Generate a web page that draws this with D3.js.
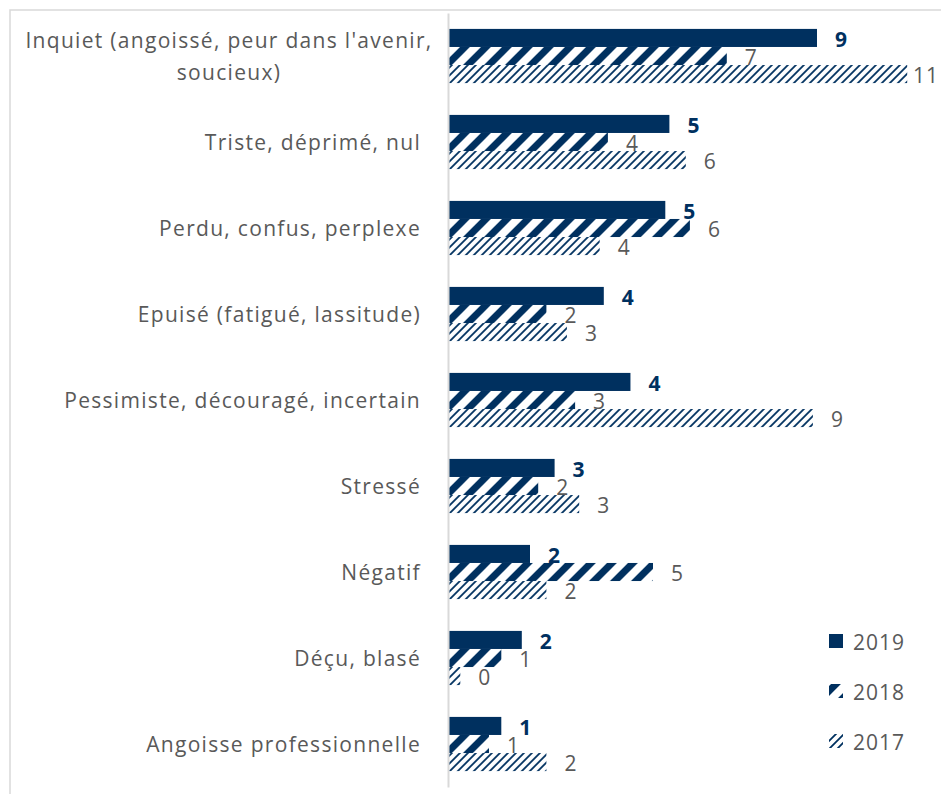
<!DOCTYPE html>
<html>
<head>
<meta charset="utf-8">
<script src="https://cdn.jsdelivr.net/npm/d3@7"></script>
<style>
  body { margin: 0; background: #fff; }
  svg text { font-family: "Open Sans", sans-serif; }
</style>
</head>
<body>
<div id="chart"></div>
<script>
// categories, top to bottom (\n = line break in the label)
var categories = [
  "Inquiet (angoissé, peur dans l'avenir,\nsoucieux)",
  "Triste, déprimé, nul",
  "Perdu, confus, perplexe",
  "Epuisé (fatigué, lassitude)",
  "Pessimiste, découragé, incertain",
  "Stressé",
  "Négatif",
  "Déçu, blasé",
  "Angoisse professionnelle"
];

var series = ["2019", "2018", "2017"];

// values (labels show them rounded)
var values2019 = [9.0, 5.4, 5.3, 3.8, 4.45, 2.6, 2.0, 1.8, 1.3];
var values2018 = [6.8, 3.9, 5.9, 2.4, 3.1, 2.2, 5.0, 1.3, 1.0];
var values2017 = [11.2, 5.8, 3.7, 2.9, 8.9, 3.2, 2.4, 0.3, 2.4];

var W = 941, H = 794;
var navy = "#00305f";
var grey = "#595959";

var svg = d3.select("#chart").append("svg")
  .attr("width", W)
  .attr("height", H);

// fill patterns for 2018 (wide diagonal) and 2017 (light diagonal)
var defs = svg.append("defs");
var p18 = defs.append("pattern")
  .attr("id", "pat2018")
  .attr("patternUnits", "userSpaceOnUse")
  .attr("width", 21).attr("height", 21);
p18.append("path")
  .attr("d", "M-5,5 l10,-10 M0,21 l21,-21 M16,26 l10,-10")
  .attr("stroke", navy).attr("stroke-width", 7);

var p17 = defs.append("pattern")
  .attr("id", "pat2017")
  .attr("patternUnits", "userSpaceOnUse")
  .attr("width", 8).attr("height", 8);
p17.append("path")
  .attr("d", "M-2,2 l4,-4 M0,8 l8,-8 M6,10 l4,-4")
  .attr("stroke", navy).attr("stroke-width", 1.8);

var fills = {"2019": navy, "2018": "url(#pat2018)", "2017": "url(#pat2017)"};

// chart border (only top and left are visible in the crop)
svg.append("path")
  .attr("d", "M10," + H + " V10 H" + W)
  .attr("fill", "none")
  .attr("stroke", "#d9d9d9")
  .attr("stroke-width", 1.5);

var x0 = 448;
var x = d3.scaleLinear().domain([0, 12]).range([x0, x0 + 12 * 41]);

var y = d3.scaleBand()
  .domain(categories)
  .range([13, 787])
  .paddingInner(0.37)
  .paddingOuter(0.185);

var ySub = d3.scaleBand()
  .domain(series)
  .range([0, y.bandwidth()]);

var rows = categories.map(function(c, i) {
  return {
    cat: c,
    vals: [
      {s: "2019", v: values2019[i]},
      {s: "2018", v: values2018[i]},
      {s: "2017", v: values2017[i]}
    ]
  };
});

var groups = svg.selectAll("g.cat")
  .data(rows)
  .enter().append("g")
  .attr("class", "cat")
  .attr("transform", function(d) { return "translate(0," + y(d.cat) + ")"; });

groups.selectAll("rect")
  .data(function(d) { return d.vals; })
  .enter().append("rect")
  .attr("x", x(0))
  .attr("y", function(d) { return ySub(d.s); })
  .attr("width", function(d) { return x(d.v) - x(0); })
  .attr("height", ySub.bandwidth())
  .attr("fill", function(d) { return fills[d.s]; });

// value labels
var fmt = d3.format(".0f");
groups.selectAll("text.val")
  .data(function(d) { return d.vals; })
  .enter().append("text")
  .attr("class", "val")
  .attr("x", function(d) { return Math.min(x(d.v) + 18, W - 28); })
  .attr("y", function(d) { return ySub(d.s) + ySub.bandwidth() / 2 + 1; })
  .attr("dominant-baseline", "central")
  .attr("font-size", 21)
  .attr("letter-spacing", 1)
  .attr("font-weight", function(d) { return d.s == "2019" ? "bold" : "normal"; })
  .attr("fill", function(d) { return d.s == "2019" ? navy : grey; })
  .text(function(d) { return fmt(d.v); });

// vertical axis line, no ticks
var axis = svg.append("g")
  .attr("transform", "translate(" + x0 + ",0)")
  .call(d3.axisLeft(y).tickSize(0).tickFormat(""));
axis.select(".domain").attr("stroke", "#d9d9d9").attr("stroke-width", 2);

// category labels
svg.selectAll("text.cat")
  .data(categories)
  .enter().append("text")
  .attr("class", "cat")
  .attr("font-size", 21)
  .attr("letter-spacing", 1.3)
  .attr("fill", grey)
  .each(function(d) {
    var lines = d.split("\n");
    var t = d3.select(this);
    var cy = y(d) + y.bandwidth() / 2;
    var multi = lines.length > 1;
    t.attr("text-anchor", multi ? "middle" : "end");
    lines.forEach(function(line, i) {
      t.append("tspan")
        .attr("x", multi ? 229 : 421)
        .attr("y", cy + (i - (lines.length - 1) / 2) * 32)
        .attr("dominant-baseline", "central")
        .text(line);
    });
  });

// legend
var legend = svg.selectAll("g.leg")
  .data(series)
  .enter().append("g")
  .attr("class", "leg")
  .attr("transform", function(d, i) { return "translate(829," + (641 + i * 50) + ")"; });

legend.append("rect")
  .attr("x", 0).attr("y", -7)
  .attr("width", 14).attr("height", 14)
  .attr("fill", function(d) { return fills[d]; });

legend.append("text")
  .attr("x", 24).attr("y", 1)
  .attr("dominant-baseline", "central")
  .attr("font-size", 21)
  .attr("letter-spacing", 1)
  .attr("fill", grey)
  .text(function(d) { return d; });
</script>
</body>
</html>
